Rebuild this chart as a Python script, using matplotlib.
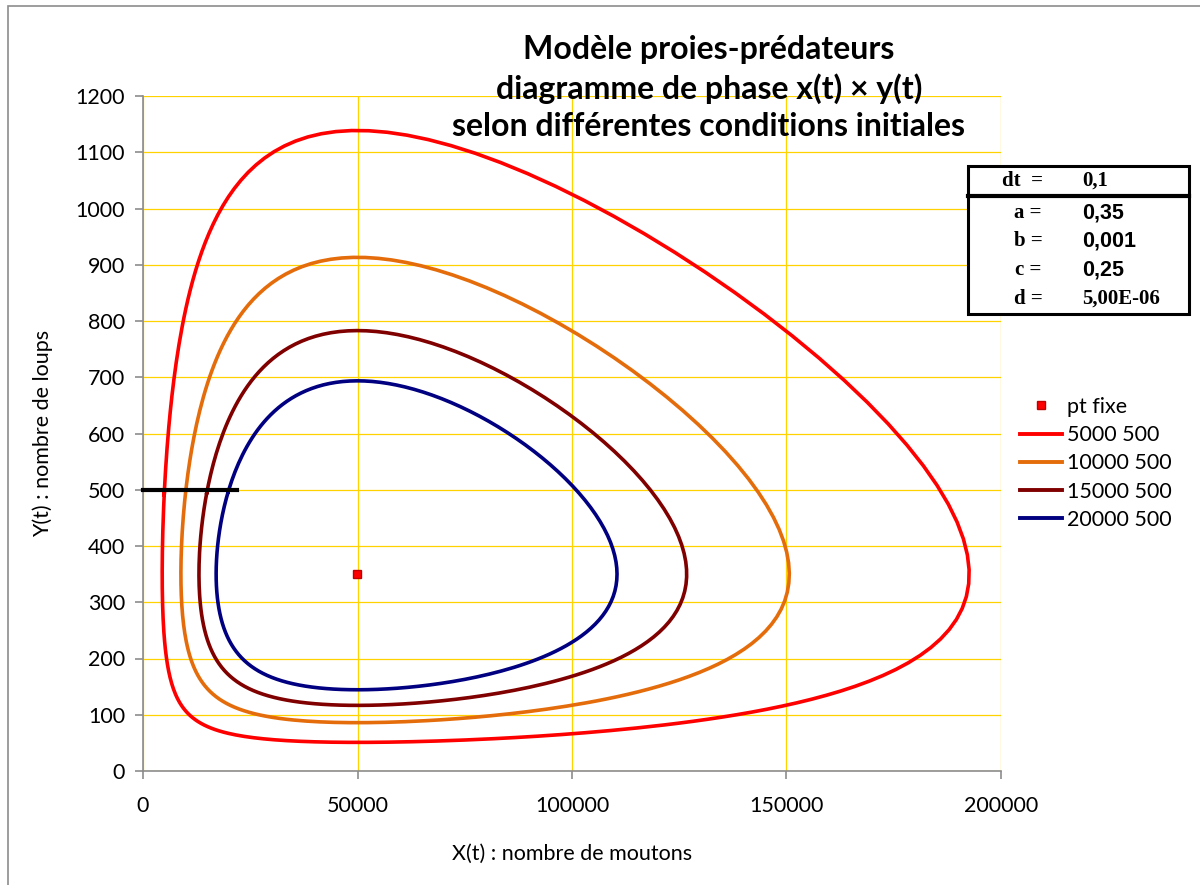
import numpy as np
import matplotlib.pyplot as plt
from matplotlib.patches import Rectangle
from matplotlib.lines import Line2D

# parametres du modele proies-predateurs
dt = 0.1
a = 0.35
b = 0.001
c = 0.25
d = 5.0e-06

# conditions initiales (moutons, loups)
x0_list = [5000, 10000, 15000, 20000]
y0_list = [500, 500, 500, 500]
labels = ["5000 500", "10000 500", "15000 500", "20000 500"]
colors = ["#FF0000", "#E46C0A", "#800000", "#000080"]

# point fixe et segment des conditions initiales
pt_x = [c / d]
pt_y = [a / b]
seg_x = [0, 22000]
seg_y = [500, 500]


def deriv(x, y):
    return a * x - b * x * y, -c * y + d * x * y


def orbite(x0, y0):
    xs, ys = [x0], [y0]
    x, y = x0, y0
    prev = np.arctan2((y - pt_y[0]) / pt_y[0], (x - pt_x[0]) / pt_x[0])
    total = 0.0
    for i in range(20000):
        k1 = deriv(x, y)
        k2 = deriv(x + dt / 2 * k1[0], y + dt / 2 * k1[1])
        k3 = deriv(x + dt / 2 * k2[0], y + dt / 2 * k2[1])
        k4 = deriv(x + dt * k3[0], y + dt * k3[1])
        x = x + dt / 6 * (k1[0] + 2 * k2[0] + 2 * k3[0] + k4[0])
        y = y + dt / 6 * (k1[1] + 2 * k2[1] + 2 * k3[1] + k4[1])
        ang = np.arctan2((y - pt_y[0]) / pt_y[0], (x - pt_x[0]) / pt_x[0])
        total += (ang - prev + np.pi) % (2 * np.pi) - np.pi
        prev = ang
        xs.append(x)
        ys.append(y)
        if abs(total) >= 2 * np.pi:
            break
    xs.append(x0)
    ys.append(y0)
    return np.array(xs), np.array(ys)


plt.rcParams['font.family'] = ['Lato', 'DejaVu Sans']

W, H = 1200, 885
fig = plt.figure(figsize=(W / 100, H / 100), dpi=100)
ax = fig.add_axes([143 / W, 1 - 771 / H, (1001 - 143) / W, (771 - 96) / H])

# cadre du graphique
fig.patches.append(Rectangle((8 / W, -0.1), 1.2, 1 - 6 / H + 0.1, transform=fig.transFigure,
                             fill=False, edgecolor='#8C8C8C', lw=1.2))

for x0, y0, lab, col in zip(x0_list, y0_list, labels, colors):
    xs, ys = orbite(x0, y0)
    ax.plot(xs, ys, color=col, lw=2.6, label=lab, solid_capstyle='round', zorder=3)

ax.plot(seg_x, seg_y, color='black', lw=3.0, zorder=4, clip_on=False)
ax.plot(pt_x, pt_y, 's', color='#FF0000', markeredgecolor='#C00000', markersize=6, zorder=5)

ax.set_xlim(0, 200000)
ax.set_ylim(0, 1200)
ax.set_xticks(np.arange(0, 200001, 50000))
ax.set_yticks(np.arange(0, 1201, 100))
ax.grid(True, color='#FFD200', lw=0.9)
ax.set_axisbelow(True)
for s in ['top', 'right']:
    ax.spines[s].set_visible(False)
for s in ['left', 'bottom']:
    ax.spines[s].set_color('#8C8C8C')
    ax.spines[s].set_linewidth(1.2)
ax.tick_params(axis='both', direction='out', length=6, width=1.2, color='#8C8C8C',
               labelsize=15.5, pad=7)
ax.tick_params(axis='x', pad=12)
ax.set_xlabel("X(t) : nombre de moutons", fontsize=15.5, labelpad=20)
ax.set_ylabel("Y(t) : nombre de loups", fontsize=15.5, labelpad=16)

# titre
fig.text(709 / W, 1 - 88 / H, "Modèle proies-prédateurs\ndiagramme de phase x(t) × y(t)\nselon différentes conditions initiales",
         ha='center', va='center', fontsize=23, fontweight='bold', linespacing=1.35)

# legende
handles = [Line2D([], [], marker='s', ls='none', color='#FF0000', markeredgecolor='#C00000', markersize=6)]
handles += [Line2D([], [], color=col, lw=2.8) for col in colors]
fig.legend(handles, ["pt fixe"] + labels, loc='upper left', bbox_to_anchor=(1020 / W, 1 - 397 / H),
           frameon=False, fontsize=15.5, handlelength=1.95, handletextpad=0.25,
           labelspacing=0.38, borderpad=0, borderaxespad=0)

# tableau des parametres
tab = Rectangle((968 / W, 1 - 314 / H), (1189 - 968) / W, (314 - 166) / H, transform=fig.transFigure,
                fill=True, facecolor='white', edgecolor='black', lw=2.2, zorder=10)
fig.patches.append(tab)
fig.lines.append(Line2D([968 / W, 1189 / W], [1 - 196 / H, 1 - 196 / H], transform=fig.transFigure,
                        color='black', lw=3.0, zorder=11))
serif = ['Liberation Serif', 'DejaVu Serif']
sans = ['Liberation Sans', 'DejaVu Sans']
fig.text(1022 / W, 1 - 181 / H, "dt  =", ha='center', va='center', fontsize=15,
         fontweight='bold', family=serif, zorder=12)
fig.text(1082 / W, 1 - 181 / H, str(dt).replace('.', ','), ha='left', va='center', fontsize=15,
         fontweight='bold', family=serif, zorder=12)
rows = [("a =", "0,35", sans), ("b =", "0,001", sans), ("c =", "0,25", sans), ("d =", "5,00E-06", serif)]
for i, (lab, val, fam) in zip(range(4), rows):
    yy = 1 - (213 + i * 28.5) / H
    fig.text(1028 / W, yy, lab, ha='center', va='center', fontsize=15, fontweight='bold',
             family=serif, zorder=12)
    fig.text(1082 / W, yy, val, ha='left', va='center', fontsize=15.5 if fam is sans else 15,
             fontweight='bold', family=fam, zorder=12)

fig.savefig("out.png", dpi=100)
